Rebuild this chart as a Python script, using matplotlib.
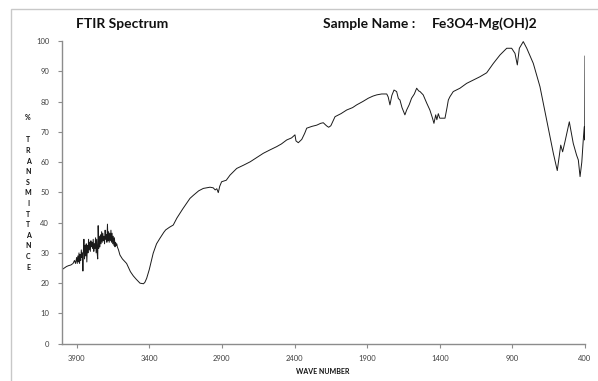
import matplotlib
matplotlib.use("Agg")
import matplotlib.pyplot as plt
from matplotlib.patches import Rectangle

plt.rcParams['font.family'] = ['Lato', 'DejaVu Sans']

# FTIR transmittance spectrum of Fe3O4-Mg(OH)2
wavenumber = [
    4000, 3985, 3970, 3955, 3940, 3925, 3915, 3908,
    3900, 3896, 3892, 3888, 3884, 3880, 3876, 3872, 3868, 3864, 3860, 3857,
    3854, 3850, 3846, 3842, 3838, 3834, 3830, 3826, 3822, 3818, 3814, 3810,
    3806, 3802, 3798, 3794, 3790, 3786, 3782, 3778, 3774, 3770, 3766, 3762,
    3758, 3755, 3752, 3748, 3744, 3740, 3736, 3732, 3728, 3724, 3720, 3716,
    3712, 3708, 3704, 3700, 3696, 3692, 3688, 3684, 3680, 3676, 3672, 3668,
    3664, 3660, 3656, 3652, 3648, 3644, 3640, 3636, 3632, 3628, 3624, 3620,
    3612, 3602, 3585, 3556, 3530,
    3510, 3490, 3464, 3440, 3430, 3418, 3400, 3373, 3350, 3327, 3300, 3287,
    3260, 3235, 3210, 3189, 3170, 3143, 3120, 3097, 3060, 3028, 2982, 2960,
    2946, 2935, 2925, 2915, 2902, 2870, 2844, 2798, 2750, 2705, 2660, 2615,
    2570, 2523, 2490, 2454, 2420, 2397, 2390, 2374, 2350, 2330, 2316, 2280,
    2247, 2220, 2202, 2180, 2165, 2150, 2121, 2080, 2041, 2000, 1972, 1930,
    1892, 1860, 1834, 1800, 1765, 1755, 1743, 1730, 1715, 1697, 1685, 1674,
    1660, 1640, 1628, 1610, 1594, 1575, 1559, 1545, 1536, 1514, 1490, 1468,
    1450, 1440, 1428, 1420, 1410, 1400, 1387, 1375, 1364, 1350, 1341, 1330,
    1307, 1261, 1215, 1169, 1123, 1077, 1031, 985, 939, 905, 882, 866,
    852, 825, 801, 756, 710, 664, 618, 591, 567, 554, 538, 508,
    481, 458, 446, 434, 422, 412, 405, 402, 400,
]
transmittance = [
    24.5, 25.0, 25.5, 25.8, 26.0, 26.5, 27.5, 26.5,
    28.5, 26.5, 29.0, 27.0, 30.0, 26.5, 29.5, 27.5, 31.0, 28.5, 30.0, 24.0,
    30.5, 34.5, 28.0, 32.5, 29.0, 33.0, 27.0, 32.5, 30.0, 34.5, 31.0, 33.5,
    30.5, 34.0, 32.0, 33.5, 31.5, 34.5, 30.5, 33.0, 31.5, 35.0, 30.0, 34.5,
    29.5, 28.0, 39.0, 31.5, 35.5, 32.0, 36.0, 33.0, 37.0, 33.5, 36.5, 34.0,
    35.5, 33.0, 37.5, 34.5, 36.0, 33.5, 39.5, 34.0, 37.0, 33.5, 36.5, 34.0,
    37.5, 33.5, 36.5, 33.0, 35.5, 32.5, 35.0, 32.0, 33.5, 32.5, 33.0, 32.0,
    31.0, 29.3, 28.0, 26.5, 23.8,
    22.4, 21.3, 20.0, 19.8, 20.3, 21.6, 24.5, 29.9, 33.0, 34.8, 36.8, 37.6,
    38.5, 39.2, 41.5, 43.1, 44.5, 46.4, 48.0, 49.0, 50.5, 51.3, 51.7, 51.5,
    50.8, 51.2, 49.9, 52.0, 53.5, 54.0, 55.7, 57.9, 59.0, 60.1, 61.5, 62.9,
    64.0, 65.1, 66.0, 67.3, 68.0, 69.0, 67.0, 66.4, 67.5, 69.5, 71.2, 71.8,
    72.2, 72.8, 73.0, 72.0, 71.5, 72.0, 75.0, 76.0, 77.2, 78.0, 78.9, 80.0,
    81.1, 81.8, 82.2, 82.5, 82.5, 81.5, 78.9, 82.0, 83.8, 83.3, 81.0, 80.5,
    78.0, 75.6, 77.2, 79.0, 81.1, 82.5, 84.4, 83.5, 83.3, 82.2, 79.5, 77.2,
    74.5, 72.8, 75.6, 74.0, 76.0, 74.5, 74.5, 74.5, 74.5, 78.0, 80.5, 81.6,
    83.3, 84.4, 86.0, 87.1, 88.2, 89.5, 92.6, 95.4, 97.6, 97.6, 95.9, 92.1,
    97.6, 99.8, 97.6, 92.6, 84.9, 73.9, 62.9, 57.2, 65.6, 63.4, 66.7, 73.3,
    66.2, 62.3, 60.7, 55.2, 60.0, 67.3, 71.7, 67.3, 95.0,
]

x_ticks = [3900, 3400, 2900, 2400, 1900, 1400, 900, 400]
y_ticks = [0, 10, 20, 30, 40, 50, 60, 70, 80, 90, 100]

W, H = 598, 381
fig = plt.figure(figsize=(W / 100, H / 100), dpi=100)

# outer frame of the report page
fig.patches.append(Rectangle((11 / W, -0.1), 1.2, 1 - 9 / H + 0.1,
                             transform=fig.transFigure, fill=False,
                             edgecolor='#c8c8c8', linewidth=1.0))

ax = fig.add_axes([61.7 / W, 1 - 343.7 / H, (585 - 61.7) / W, (343.7 - 41) / H])
ax.plot(wavenumber, transmittance, color='#1a1a1a', linewidth=0.7)

ax.set_xlim(4003, 400)
ax.set_ylim(0, 100)
ax.set_xticks(x_ticks)
ax.set_yticks(y_ticks)
axis_grey = '#8c8c8c'
for side in ('top', 'right'):
    ax.spines[side].set_visible(False)
for side in ('left', 'bottom'):
    ax.spines[side].set_color(axis_grey)
    ax.spines[side].set_linewidth(1.0)
ax.tick_params(axis='both', colors=axis_grey, labelcolor='#404040',
               labelsize=5.5, length=3, width=0.8, direction='out')
ax.tick_params(axis='x', pad=5)
ax.tick_params(axis='y', pad=6)

fig.text(76 / W, 1 - 24 / H, 'FTIR Spectrum', fontsize=10, fontweight='bold',
         ha='left', va='center', color='#111111')
fig.text(323 / W, 1 - 24 / H, 'Sample Name :', fontsize=10, fontweight='bold',
         ha='left', va='center', color='#111111')
fig.text(432 / W, 1 - 24 / H, 'Fe3O4-Mg(OH)2', fontsize=10, fontweight='bold',
         ha='left', va='center', color='#111111')

fig.text(323 / W, 1 - 372 / H, 'WAVE NUMBER', fontsize=5, fontweight='bold',
         ha='center', va='center', color='#111111')

# vertical axis title, one letter per line
fig.text(28 / W, 1 - 118 / H, '%', fontsize=5, fontweight='bold',
         ha='center', va='center', color='#111111')
for i, ch in enumerate('TRANSMITTANCE'):
    fig.text(28 / W, 1 - (140 + i * 10.6) / H, ch, fontsize=5, fontweight='bold',
             ha='center', va='center', color='#111111')

fig.savefig('out.png', dpi=100)
